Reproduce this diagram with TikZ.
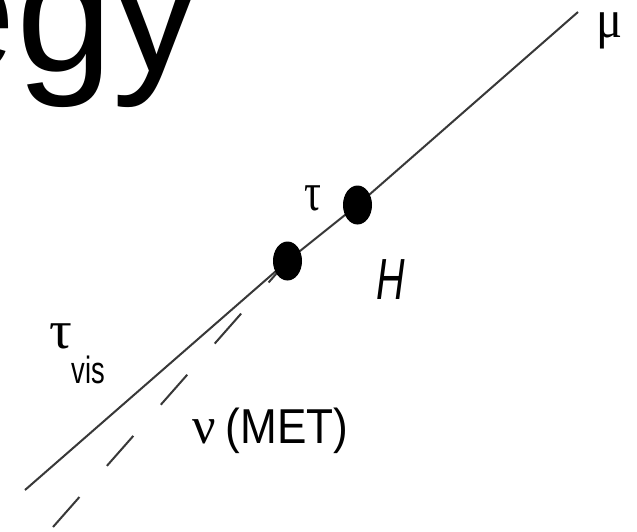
\documentclass[tikz,border=0pt]{standalone}
\usepackage{fontspec}
\setmainfont{Liberation Sans}
\newfontfamily\grk{Liberation Serif}
\usetikzlibrary{shapes.geometric}
\pgfdeclarelayer{bg}
\pgfsetlayers{bg,main}
\tikzset{
  dotnode/.style={ellipse, fill=black, draw=none, inner sep=0pt, minimum width=29pt, minimum height=39pt},
  trackline/.style={line width=2pt, draw=black!78},
  metline/.style={trackline, dash pattern=on 40pt off 41.5pt},
  lbl/.style={inner sep=0pt, anchor=base west, text=black},
}
\begin{document}
\begin{tikzpicture}[x=1pt,y=-1pt]
\useasboundingbox (0,0) rectangle (637,531);
\clip (0,0) rectangle (637,531);
% title fragment
\node[inner sep=0pt, anchor=base east, font=\fontsize{174}{174}\selectfont] (title) at (200,71) {egy};
% vertices
\node[dotnode] (t1) at (287.5,261) {};
\node[dotnode] (t2) at (357.5,205) {};
\coordinate (lo) at (25,490);
\coordinate (hi) at (578,12);
\coordinate (nu) at (53,527);
\begin{pgfonlayer}{bg}
\fill[white] (0,0) rectangle (637,531);
\draw[trackline] (lo) -- (t1.center) -- (t2.center) -- (hi);
\draw[metline] (nu) -- (t1.center);
\end{pgfonlayer}
% labels
\node[lbl, font=\grk\fontsize{54}{54}\selectfont] (mu) at (596,37) {\scalebox{0.9}[1]{μ}};
\node[lbl, font=\grk\fontsize{54}{54}\selectfont] (tau) at (304,210) {\scalebox{0.78}[1]{τ}};
\node[lbl, font=\itshape\fontsize{58}{58}\selectfont] (H) at (376,299) {\scalebox{0.68}[1]{H}};
\node[lbl] (tauvis) at (49,348) {{\grk\fontsize{54}{54}\selectfont\scalebox{1.05}[1]{τ}}\raisebox{-35pt}{\fontsize{38}{38}\selectfont\scalebox{0.72}[1]{vis}}};
\node[lbl] (met) at (192,443) {{\grk\fontsize{52}{52}\selectfont ν}\hspace{10pt}{\fontsize{49}{49}\selectfont\scalebox{0.9}[1]{(MET)}}};
\end{tikzpicture}
\end{document}
